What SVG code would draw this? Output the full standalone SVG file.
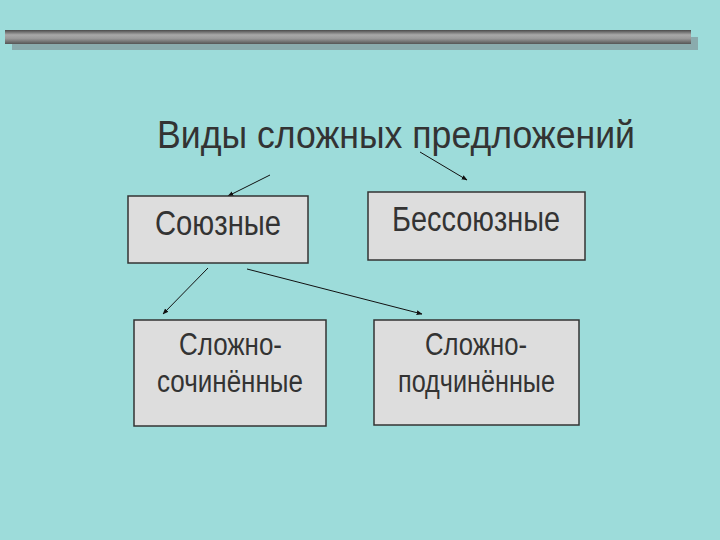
<svg xmlns="http://www.w3.org/2000/svg" width="720" height="540" viewBox="0 0 720 540">
<defs>
<linearGradient id="bar" x1="0" y1="0" x2="0" y2="1">
<stop offset="0" stop-color="#4a4a4a"/>
<stop offset="0.35" stop-color="#a8a8a8"/>
<stop offset="0.6" stop-color="#9a9a9a"/>
<stop offset="1" stop-color="#555555"/>
</linearGradient>
<marker id="ah" viewBox="0 0 10 10" refX="9" refY="5" markerWidth="6" markerHeight="6" orient="auto" markerUnits="userSpaceOnUse">
<path d="M0,1 L10,5 L0,9 Z" fill="#111"/>
</marker>
<style>
.box{fill:#dddddd;stroke:#333333;stroke-width:1.5}
.t{font-family:"Liberation Sans",Arial,sans-serif;fill:#333333}
.c{stroke:#111;stroke-width:1;fill:none;marker-end:url(#ah)}
</style>
</defs>
<rect x="0" y="0" width="720" height="540" fill="#9ddcda"/>
<rect x="12" y="37" width="686" height="13" fill="#8aabad"/>
<rect x="5" y="30" width="686" height="14" fill="url(#bar)"/>
<text class="t" x="157" y="148" font-size="38" textLength="478" lengthAdjust="spacingAndGlyphs">Виды сложных предложений</text>
<g id="connectors">
<line class="c" x1="270" y1="175" x2="228" y2="196"/>
<line class="c" x1="420" y1="152" x2="467" y2="180"/>
<line class="c" x1="208" y1="268" x2="163" y2="314"/>
<line class="c" x1="247" y1="269" x2="422" y2="314"/>
</g>
<g id="soyuznye">
<rect class="box" x="128" y="196" width="180" height="67"/>
<text class="t" x="155" y="235" font-size="35" textLength="126" lengthAdjust="spacingAndGlyphs">Союзные</text>
</g>
<g id="bessoyuznye">
<rect class="box" x="368" y="192" width="217" height="68"/>
<text class="t" x="392" y="231" font-size="35" textLength="168" lengthAdjust="spacingAndGlyphs">Бессоюзные</text>
</g>
<g id="slozhnosochinennye">
<rect class="box" x="134" y="320" width="192" height="106"/>
<text class="t" x="179" y="355" font-size="31" textLength="103" lengthAdjust="spacingAndGlyphs">Сложно-</text>
<text class="t" x="157" y="392" font-size="31" textLength="146" lengthAdjust="spacingAndGlyphs">сочинённые</text>
</g>
<g id="slozhnopodchinennye">
<rect class="box" x="374" y="320" width="205" height="105"/>
<text class="t" x="425" y="355" font-size="31" textLength="102" lengthAdjust="spacingAndGlyphs">Сложно-</text>
<text class="t" x="398" y="392" font-size="31" textLength="157" lengthAdjust="spacingAndGlyphs">подчинённые</text>
</g>
</svg>
